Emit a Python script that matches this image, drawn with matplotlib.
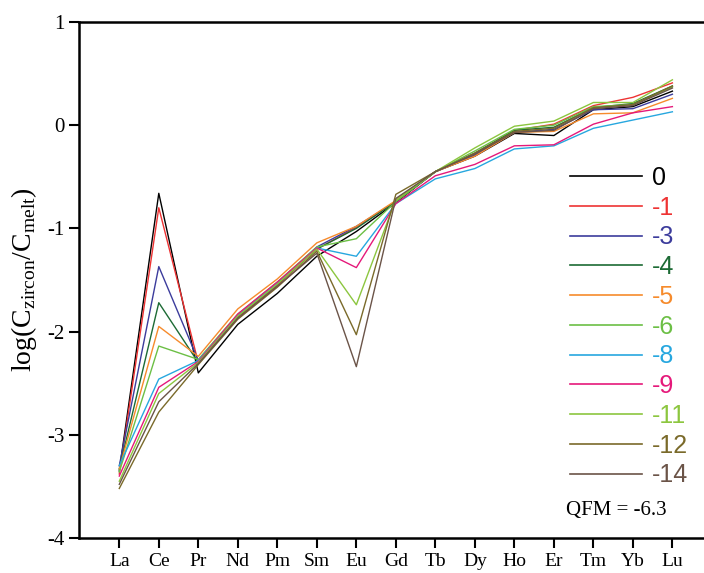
import numpy as np
import matplotlib
matplotlib.use("Agg")
import matplotlib.pyplot as plt

# REE partition coefficients, one curve per oxygen fugacity offset
elements = ['La', 'Ce', 'Pr', 'Nd', 'Pm', 'Sm', 'Eu', 'Gd',
            'Tb', 'Dy', 'Ho', 'Er', 'Tm', 'Yb', 'Lu']
labels = ['0', '-1', '-3', '-4', '-5', '-6', '-8', '-9', '-11', '-12', '-14']
colors = ['#000000', '#ee3333', '#3c3c9c', '#1d6b35', '#f68b2c', '#6cbf45',
          '#27a7df', '#e5197a', '#8cc63f', '#7a6a2a', '#6b5448']

d0 = [-3.35, -0.66, -2.40, -1.93, -1.63, -1.27, -1.03, -0.75, -0.45, -0.30, -0.08, -0.10, 0.15, 0.18, 0.33]
d1 = [-3.38, -0.80, -2.30, -1.86, -1.55, -1.20, -0.99, -0.74, -0.45, -0.28, -0.05, 0.01, 0.19, 0.27, 0.41]
d3 = [-3.30, -1.37, -2.28, -1.84, -1.53, -1.18, -0.98, -0.74, -0.45, -0.29, -0.07, -0.04, 0.15, 0.16, 0.30]
d4 = [-3.33, -1.72, -2.30, -1.85, -1.54, -1.20, -1.00, -0.74, -0.45, -0.27, -0.05, -0.02, 0.17, 0.21, 0.38]
d5 = [-3.33, -1.95, -2.24, -1.78, -1.49, -1.14, -0.98, -0.73, -0.45, -0.30, -0.07, -0.06, 0.11, 0.12, 0.26]
d6 = [-3.36, -2.14, -2.27, -1.83, -1.52, -1.18, -1.10, -0.74, -0.45, -0.25, -0.04, 0.00, 0.18, 0.20, 0.37]
d8 = [-3.30, -2.46, -2.28, -1.84, -1.53, -1.19, -1.27, -0.76, -0.52, -0.42, -0.23, -0.20, -0.03, 0.05, 0.13]
d9 = [-3.40, -2.54, -2.29, -1.83, -1.52, -1.19, -1.38, -0.76, -0.49, -0.38, -0.20, -0.19, 0.01, 0.12, 0.18]
d11 = [-3.45, -2.60, -2.30, -1.85, -1.54, -1.20, -1.74, -0.72, -0.45, -0.22, -0.01, 0.04, 0.22, 0.22, 0.44]
d12 = [-3.52, -2.78, -2.32, -1.88, -1.57, -1.22, -2.03, -0.67, -0.45, -0.27, -0.06, -0.03, 0.17, 0.20, 0.38]
d14 = [-3.48, -2.68, -2.31, -1.87, -1.56, -1.24, -2.34, -0.71, -0.45, -0.28, -0.07, -0.05, 0.16, 0.19, 0.36]
series = [d0, d1, d3, d4, d5, d6, d8, d9, d11, d12, d14]

serif = 'Liberation Serif'
plt.rcParams['mathtext.fontset'] = 'custom'
plt.rcParams['mathtext.rm'] = serif

fig = plt.figure(figsize=(7.04, 5.73), dpi=100)
ax = fig.add_axes([0.1122, 0.0611, 0.8878, 0.9005])

x = np.arange(len(elements))
for vals, lab, col in zip(series, labels, colors):
    ax.plot(x, vals, color=col, lw=1.0, label=lab)

ax.set_xlim(-1.02, 14.8)
ax.set_ylim(-4, 1)
ax.set_xticks(x)
ax.set_xticklabels(elements, fontfamily=serif, fontsize=14)
ax.set_yticks([-4, -3, -2, -1, 0, 1])
ax.set_yticklabels(['-4', '-3', '-2', '-1', '0', '1'], fontfamily=serif, fontsize=15)
ax.tick_params(axis='both', direction='out', length=7, width=1.5)
ax.tick_params(axis='x', pad=4)

for s in ['left', 'bottom', 'top']:
    ax.spines[s].set_linewidth(1.8)
ax.spines['right'].set_visible(False)

ax.set_ylabel(r'log(C$_{\mathregular{zircon}}$/C$_{\mathregular{melt}}$)',
              fontfamily=serif, fontsize=20, labelpad=6)

leg = ax.legend(loc='upper left', bbox_to_anchor=(0.757, 0.755), frameon=False,
                handlelength=2.9, handletextpad=0.4, labelspacing=0.23,
                borderaxespad=0.3,
                prop={'family': 'Liberation Sans', 'size': 18})
for txt, col in zip(leg.get_texts(), colors):
    txt.set_color(col)
for line in leg.get_lines():
    line.set_linewidth(1.2)

ax.text(0.94, 0.053, 'QFM = -6.3', transform=ax.transAxes, ha='right',
        va='center', fontfamily=serif, fontsize=15)

fig.savefig('out.png', dpi=100)
